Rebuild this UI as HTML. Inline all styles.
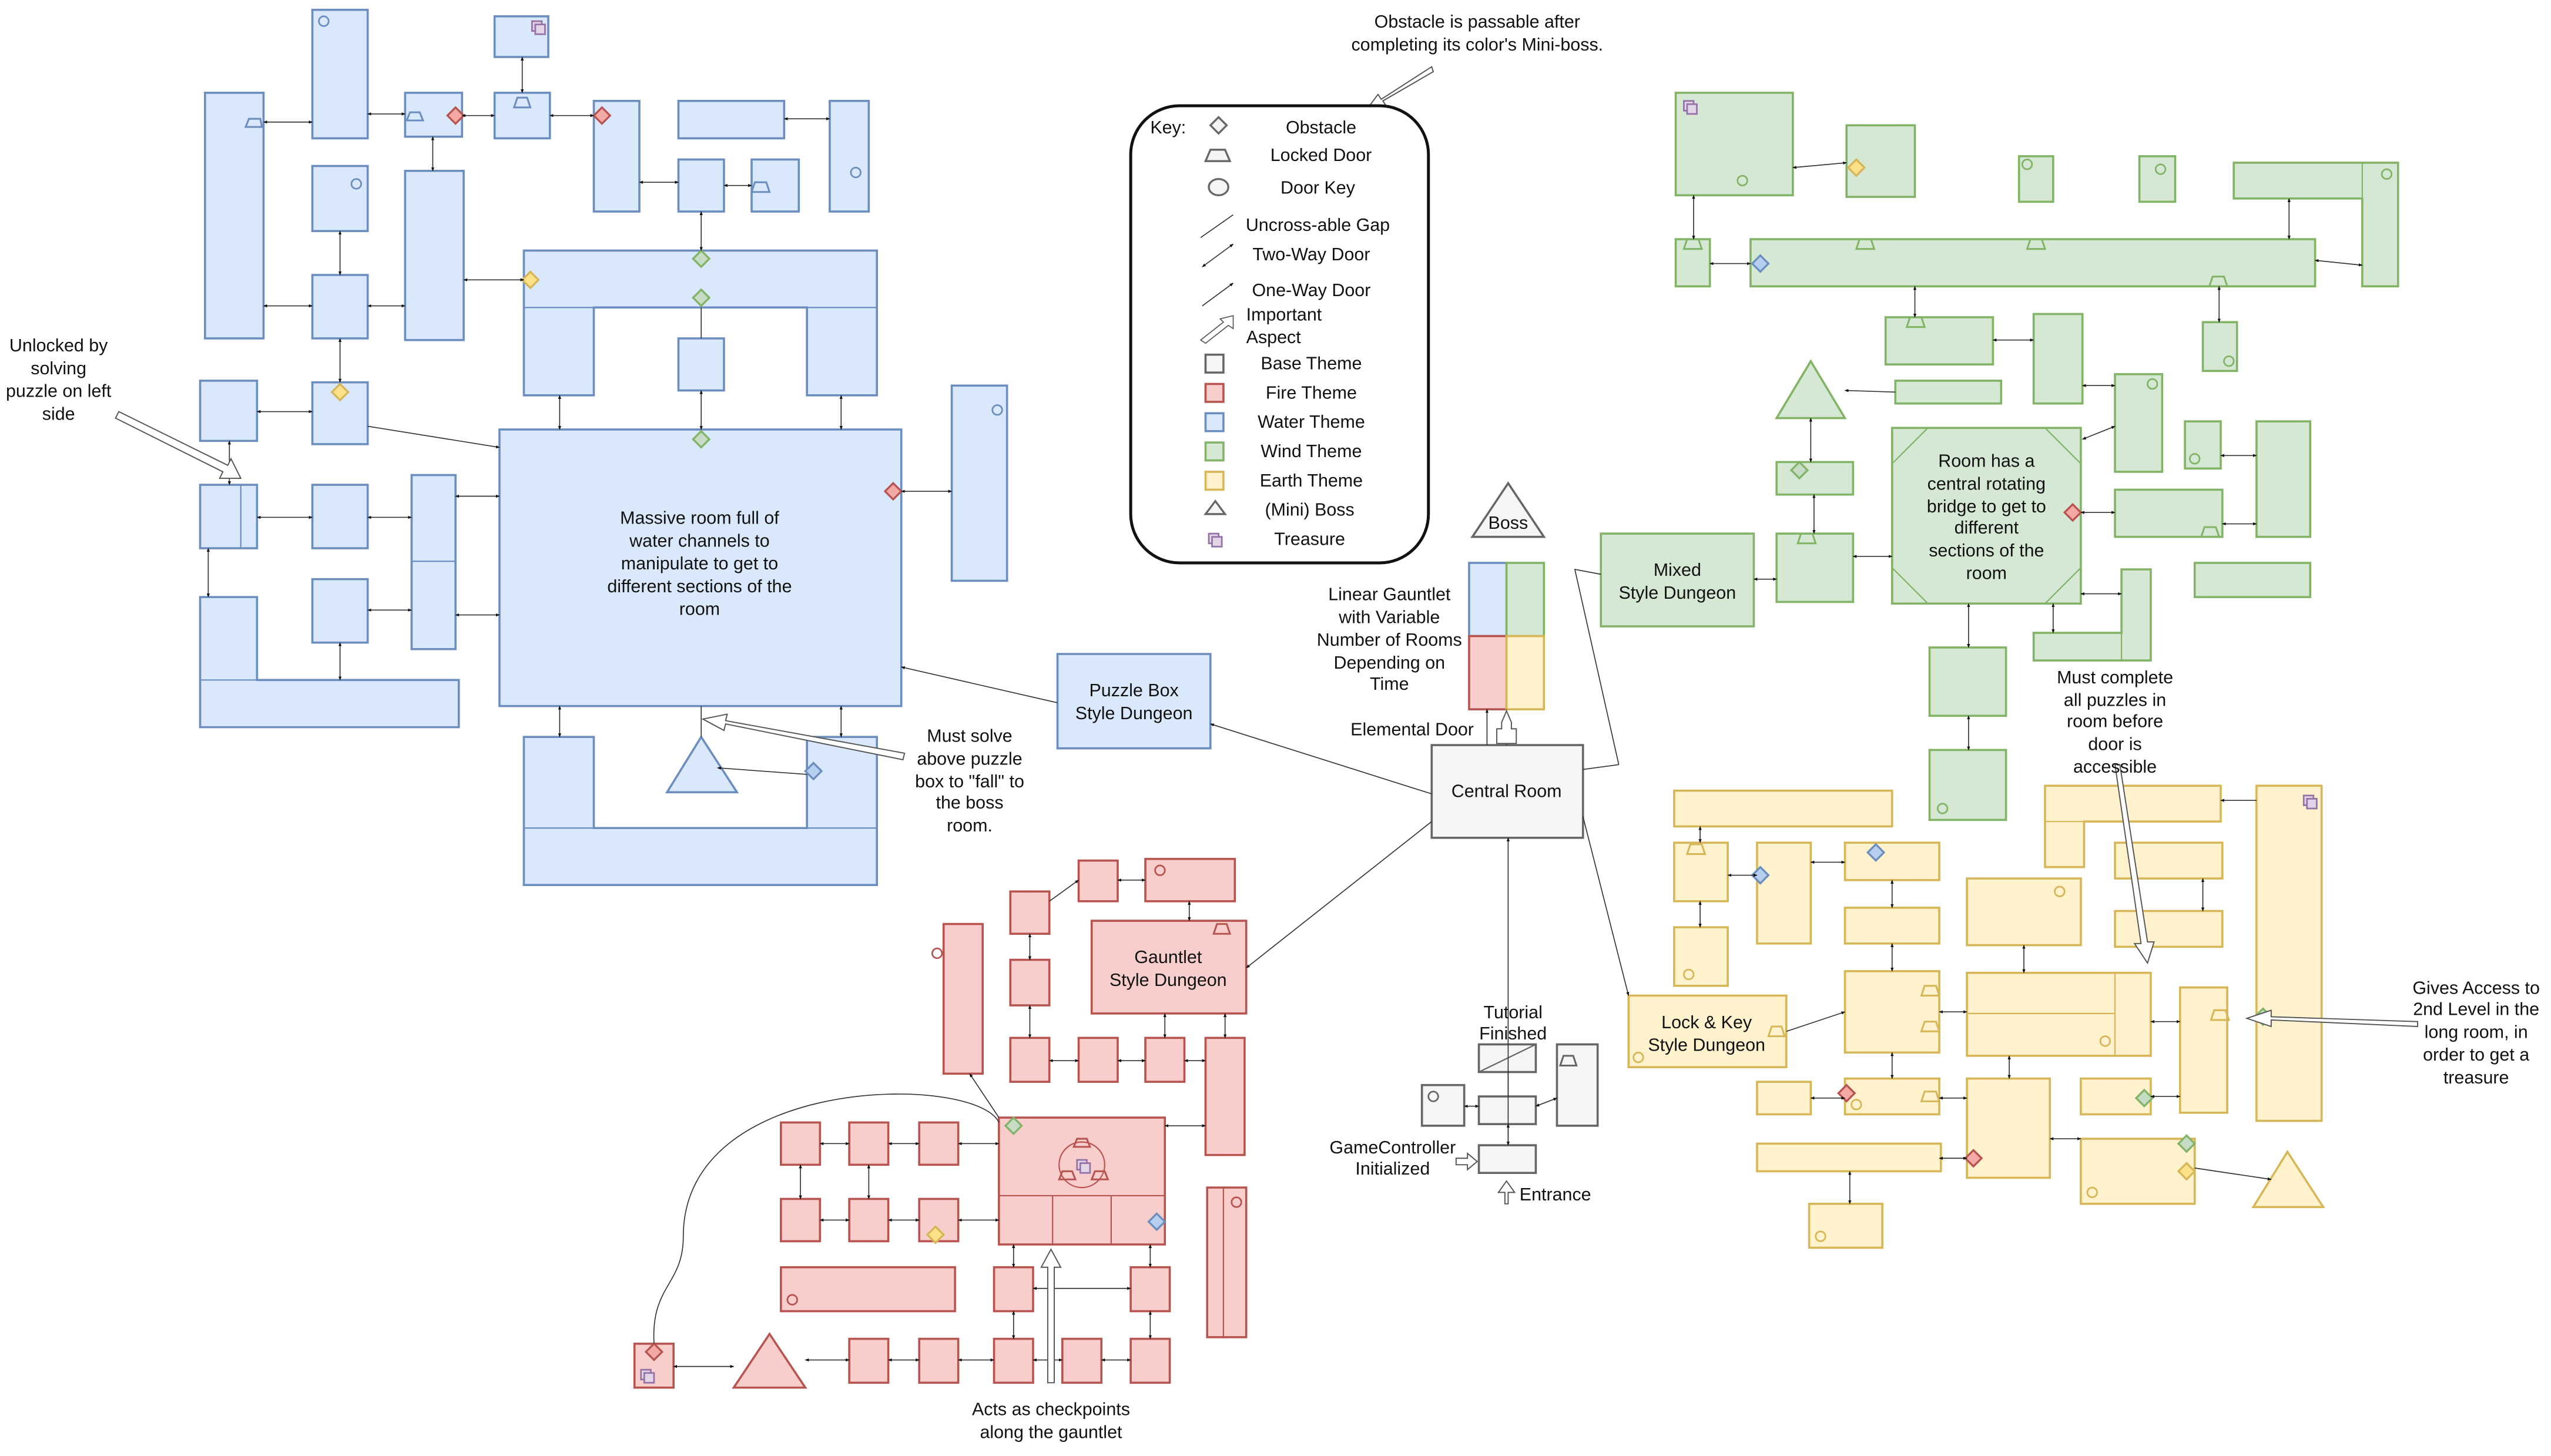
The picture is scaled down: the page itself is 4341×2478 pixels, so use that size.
<!DOCTYPE html>
<html><head><meta charset="utf-8"><style>
html,body{margin:0;padding:0;background:#fff}
svg{display:block}
text{font-family:"Liberation Sans",sans-serif;font-size:11px;fill:#111}
.w{fill:#dae8fc;stroke:#6c8ebf;stroke-width:1.3}
.f{fill:#f8cecc;stroke:#b85450;stroke-width:1.3}
.g{fill:#d5e8d4;stroke:#82b366;stroke-width:1.3}
.e{fill:#fff2cc;stroke:#d6b656;stroke-width:1.3}
.b{fill:#f5f5f5;stroke:#666;stroke-width:1.3}
.l{stroke:#333;stroke-width:0.6;fill:none}
.in{stroke-width:0.8;fill:none}
.t{text-anchor:middle}
</style></head><body>
<svg width="4341" height="2478" viewBox="0 0 1568 895" xmlns="http://www.w3.org/2000/svg">
<defs>
<marker id="a" viewBox="0 0 10 10" refX="9" refY="5" markerWidth="4" markerHeight="4" orient="auto-start-reverse"><path d="M0,1 L10,5 L0,9 z" fill="#111"/></marker>
</defs>
<rect width="1568" height="895" fill="#fff"/>

<!-- ===== WATER ===== -->
<g class="w">
<rect x="126" y="57" width="36" height="151"/>
<rect x="192" y="6" width="34" height="79"/>
<rect x="304" y="10" width="33" height="25"/>
<rect x="249" y="57" width="35" height="27"/>
<rect x="304" y="57" width="34" height="28"/>
<rect x="365" y="62" width="28" height="68"/>
<rect x="417" y="62" width="65" height="23"/>
<rect x="510" y="62" width="24" height="68"/>
<rect x="192" y="102" width="34" height="40"/>
<rect x="249" y="105" width="36" height="104"/>
<rect x="417" y="98" width="28" height="32"/>
<rect x="462" y="98" width="29" height="32"/>
<rect x="192" y="169" width="34" height="39"/>
<path d="M322,154 H539 V243 H496 V189 H365 V243 H322 Z"/>
<rect x="417" y="208" width="28" height="32"/>
<rect x="123" y="234" width="35" height="37"/>
<rect x="192" y="235" width="34" height="38"/>
<rect x="123" y="298" width="35" height="39"/>
<rect x="192" y="298" width="34" height="39"/>
<rect x="253" y="292" width="27" height="107"/>
<rect x="192" y="356" width="34" height="39"/>
<path d="M123,367 H158 V418 H282 V447 H123 Z"/>
<rect x="307" y="264" width="247" height="170"/>
<rect x="585" y="237" width="34" height="120"/>
<path d="M322,453 H365 V509 H496 V453 H539 V544 H322 Z"/>
<path d="M431,453 L453,487 L410,487 Z"/>
<rect x="650" y="402" width="94" height="58"/>
</g>
<g class="in" stroke="#6c8ebf"><line x1="148" y1="298" x2="148" y2="337"/><line x1="253" y1="345" x2="280" y2="345"/>
<line x1="322" y1="189" x2="365" y2="189"/><line x1="496" y1="189" x2="539" y2="189"/>
<line x1="322" y1="509" x2="365" y2="509"/><line x1="496" y1="509" x2="539" y2="509"/>
<line x1="123" y1="418" x2="158" y2="418"/></g>
<text class="t" x="430" y="322">Massive room full of</text>
<text class="t" x="430" y="336">water channels to</text>
<text class="t" x="430" y="350">manipulate to get to</text>
<text class="t" x="430" y="364">different sections of the</text>
<text class="t" x="430" y="378">room</text>
<text class="t" x="697" y="428">Puzzle Box</text>
<text class="t" x="697" y="442">Style Dungeon</text>

<!-- ===== FIRE ===== -->
<g class="f">
<rect x="663" y="529" width="24" height="25"/>
<rect x="704" y="528" width="55" height="26"/>
<rect x="621" y="548" width="24" height="26"/>
<rect x="671" y="566" width="95" height="57"/>
<rect x="580" y="568" width="24" height="92"/>
<rect x="621" y="590" width="24" height="28"/>
<rect x="621" y="638" width="24" height="27"/>
<rect x="663" y="638" width="24" height="27"/>
<rect x="704" y="638" width="24" height="27"/>
<rect x="741" y="638" width="24" height="72"/>
<rect x="614" y="687" width="102" height="78"/>
<rect x="480" y="690" width="24" height="26"/>
<rect x="522" y="690" width="24" height="26"/>
<rect x="565" y="690" width="24" height="26"/>
<rect x="480" y="737" width="24" height="26"/>
<rect x="522" y="737" width="24" height="26"/>
<rect x="565" y="737" width="24" height="26"/>
<rect x="742" y="730" width="24" height="92"/>
<rect x="480" y="779" width="107" height="27"/>
<rect x="611" y="779" width="24" height="27"/>
<rect x="695" y="779" width="24" height="27"/>
<rect x="522" y="823" width="24" height="27"/>
<rect x="565" y="823" width="24" height="27"/>
<rect x="611" y="823" width="24" height="27"/>
<rect x="653" y="823" width="24" height="27"/>
<rect x="695" y="823" width="24" height="27"/>
<rect x="390" y="826" width="24" height="27"/>
<path d="M473,820 L495,853 L451,853 Z"/>
</g>
<g class="in" stroke="#b85450"><line x1="614" y1="735" x2="716" y2="735"/><line x1="647" y1="735" x2="647" y2="765"/><line x1="683" y1="735" x2="683" y2="765"/><line x1="752" y1="730" x2="752" y2="822"/><circle cx="665" cy="716" r="14"/></g>
<text class="t" x="718" y="592">Gauntlet</text>
<text class="t" x="718" y="606">Style Dungeon</text>

<!-- ===== BASE ===== -->
<g class="b">
<path d="M927,297 L949,330 L905,330 Z"/>
<rect x="880" y="458" width="93" height="57"/>
<rect x="909" y="642" width="35" height="17"/>
<rect x="957" y="642" width="25" height="50"/>
<rect x="874" y="667" width="26" height="25"/>
<rect x="909" y="674" width="35" height="17"/>
<rect x="909" y="704" width="35" height="17"/>
</g>
<line x1="909" y1="659" x2="944" y2="642" stroke="#666" stroke-width="0.8"/>
<rect x="903" y="346" width="23" height="45" class="w"/>
<rect x="926" y="346" width="23" height="45" class="g"/>
<rect x="903" y="391" width="23" height="45" class="f"/>
<rect x="926" y="391" width="23" height="45" class="e"/>
<text class="t" x="927" y="325">Boss</text>
<text class="t" x="926" y="490">Central Room</text>

<!-- ===== WIND ===== -->
<g class="g">
<rect x="1030" y="57" width="72" height="63"/>
<rect x="1135" y="77" width="42" height="44"/>
<rect x="1241" y="96" width="21" height="28"/>
<rect x="1315" y="96" width="22" height="28"/>
<path d="M1373,100 H1474 V176 H1452 V122 H1373 Z"/>
<rect x="1030" y="147" width="21" height="29"/>
<rect x="1076" y="147" width="347" height="29"/>
<rect x="1354" y="198" width="21" height="30"/>
<rect x="1159" y="195" width="66" height="29"/>
<rect x="1250" y="193" width="30" height="55"/>
<rect x="1165" y="234" width="65" height="14"/>
<path d="M1113,222 L1134,257 L1092,257 Z"/>
<rect x="1300" y="230" width="29" height="60"/>
<rect x="1343" y="259" width="22" height="29"/>
<rect x="1387" y="259" width="33" height="71"/>
<rect x="1092" y="284" width="47" height="20"/>
<rect x="1163" y="263" width="116" height="108"/>
<rect x="1092" y="328" width="47" height="42"/>
<rect x="1300" y="301" width="66" height="29"/>
<rect x="1349" y="346" width="71" height="21"/>
<path d="M1304,350 H1322 V406 H1250 V389 H1304 Z"/>
<rect x="1186" y="398" width="47" height="42"/>
<rect x="1186" y="461" width="47" height="43"/>
<rect x="984" y="328" width="94" height="57"/>
</g>
<g class="in" stroke="#82b366"><line x1="1163" y1="285" x2="1185" y2="263"/><line x1="1257" y1="263" x2="1279" y2="285"/><line x1="1163" y1="349" x2="1185" y2="371"/><line x1="1257" y1="371" x2="1279" y2="349"/>
<line x1="1452" y1="100" x2="1452" y2="122"/><line x1="1304" y1="389" x2="1304" y2="406"/></g>
<text class="t" x="1221" y="287">Room has a</text>
<text class="t" x="1221" y="301">central rotating</text>
<text class="t" x="1221" y="315">bridge to get to</text>
<text class="t" x="1221" y="328">different</text>
<text class="t" x="1221" y="342">sections of the</text>
<text class="t" x="1221" y="356">room</text>
<text class="t" x="1031" y="354">Mixed</text>
<text class="t" x="1031" y="368">Style Dungeon</text>

<!-- ===== EARTH ===== -->
<g class="e">
<rect x="1029" y="486" width="134" height="22"/>
<rect x="1029" y="518" width="33" height="36"/>
<rect x="1080" y="518" width="33" height="62"/>
<rect x="1134" y="518" width="58" height="23"/>
<rect x="1134" y="558" width="58" height="22"/>
<path d="M1257,483 H1365 V505 H1281 V533 H1257 Z"/>
<rect x="1300" y="518" width="66" height="22"/>
<rect x="1300" y="560" width="66" height="22"/>
<rect x="1387" y="483" width="40" height="206"/>
<rect x="1209" y="540" width="70" height="41"/>
<rect x="1029" y="570" width="33" height="36"/>
<rect x="1001" y="612" width="97" height="44"/>
<rect x="1134" y="597" width="58" height="50"/>
<rect x="1209" y="598" width="113" height="51"/>
<rect x="1340" y="607" width="29" height="77"/>
<rect x="1080" y="665" width="33" height="20"/>
<rect x="1134" y="663" width="58" height="22"/>
<rect x="1279" y="663" width="43" height="22"/>
<rect x="1209" y="663" width="51" height="61"/>
<rect x="1080" y="703" width="113" height="17"/>
<rect x="1279" y="700" width="70" height="40"/>
<path d="M1406,708 L1428,742 L1385,742 Z"/>
<rect x="1112" y="740" width="45" height="27"/>
</g>
<g class="in" stroke="#d6b656"><line x1="1300" y1="598" x2="1300" y2="649"/><line x1="1209" y1="623" x2="1300" y2="623"/><line x1="1257" y1="505" x2="1281" y2="505"/></g>
<text class="t" x="1049" y="632">Lock &amp; Key</text>
<text class="t" x="1049" y="646">Style Dungeon</text>

<!-- ===== ICONS: diamonds ===== -->
<g stroke-width="1.2">
<g fill="#c6dcc4" stroke="#82b366">
<path d="M431,154 l5,5 -5,5 -5,-5z"/><path d="M431,178 l5,5 -5,5 -5,-5z"/><path d="M431,265 l5,5 -5,5 -5,-5z"/>
<path d="M623,687 l5,5 -5,5 -5,-5z"/><path d="M1106,284 l5,5 -5,5 -5,-5z"/><path d="M1318,670 l5,5 -5,5 -5,-5z"/>
<path d="M1344,698 l5,5 -5,5 -5,-5z"/><path d="M1391,620 l5,5 -5,5 -5,-5z"/>
</g>
<g fill="#fde08a" stroke="#d6b656">
<path d="M326,167 l5,5 -5,5 -5,-5z"/><path d="M209,236 l5,5 -5,5 -5,-5z"/><path d="M575,754 l5,5 -5,5 -5,-5z"/>
<path d="M1141,98 l5,5 -5,5 -5,-5z"/><path d="M1344,715 l5,5 -5,5 -5,-5z"/>
</g>
<g fill="#f4a9a6" stroke="#b85450">
<path d="M280,66 l5,5 -5,5 -5,-5z"/><path d="M370,66 l5,5 -5,5 -5,-5z"/><path d="M549,297 l5,5 -5,5 -5,-5z"/>
<path d="M402,826 l5,5 -5,5 -5,-5z"/><path d="M1274,310 l5,5 -5,5 -5,-5z"/><path d="M1135,667 l5,5 -5,5 -5,-5z"/><path d="M1213,707 l5,5 -5,5 -5,-5z"/>
</g>
<g fill="#b6cff0" stroke="#6c8ebf">
<path d="M500,469 l5,5 -5,5 -5,-5z"/><path d="M711,746 l5,5 -5,5 -5,-5z"/><path d="M1082,157 l5,5 -5,5 -5,-5z"/>
<path d="M1082,533 l5,5 -5,5 -5,-5z"/><path d="M1153,519 l5,5 -5,5 -5,-5z"/>
</g>
</g>
<!-- locked doors -->
<g fill="none" stroke-width="1.1">
<g stroke="#6c8ebf"><path d="M151,78 l2,-5 h7 l1,5z"/><path d="M250,74 l2,-5 h6 l2,5z"/><path d="M316,66 l2,-6 h6 l2,6z"/><path d="M462,118 l2,-6 h7 l2,6z"/></g>
<g stroke="#b85450"><path d="M746,574 l2,-6 h6 l2,6z"/><path d="M660,705 l2,-5 h6 l2,5z"/><path d="M651,725 l2,-5 h6 l2,5z"/><path d="M671,725 l2,-5 h6 l2,5z"/></g>
<g stroke="#666"><path d="M959,655 l2,-6 h6 l2,6z"/></g>
<g stroke="#82b366"><path d="M1035,153 l2,-6 h7 l2,6z"/><path d="M1141,153 l2,-6 h7 l2,6z"/><path d="M1246,153 l2,-6 h7 l2,6z"/><path d="M1358,176 l2,-6 h7 l2,6z"/><path d="M1172,201 l2,-6 h7 l2,6z"/><path d="M1105,334 l2,-6 h7 l2,6z"/><path d="M1353,330 l2,-6 h7 l2,6z"/></g>
<g stroke="#d6b656"><path d="M1037,525 l2,-6 h7 l2,6z"/><path d="M1087,637 l2,-6 h6 l2,6z"/><path d="M1181,612 l2,-6 h7 l2,6z"/><path d="M1181,634 l2,-6 h7 l2,6z"/><path d="M1181,677 l2,-6 h7 l2,6z"/><path d="M1359,627 l2,-6 h7 l2,6z"/></g>
</g>
<!-- keys circles -->
<g fill="none" stroke-width="1">
<g stroke="#6c8ebf"><circle cx="199" cy="13" r="3"/><circle cx="219" cy="113" r="3"/><circle cx="526" cy="106" r="3"/><circle cx="613" cy="252" r="3"/></g>
<g stroke="#b85450"><circle cx="713" cy="535" r="3"/><circle cx="576" cy="586" r="3"/><circle cx="760" cy="739" r="3"/><circle cx="487" cy="799" r="3"/></g>
<g stroke="#666"><circle cx="881" cy="674" r="3"/></g>
<g stroke="#82b366"><circle cx="1071" cy="111" r="3"/><circle cx="1246" cy="101" r="3"/><circle cx="1328" cy="104" r="3"/><circle cx="1467" cy="107" r="3"/><circle cx="1370" cy="222" r="3"/><circle cx="1323" cy="236" r="3"/><circle cx="1349" cy="282" r="3"/><circle cx="1194" cy="497" r="3"/></g>
<g stroke="#d6b656"><circle cx="1266" cy="548" r="3"/><circle cx="1038" cy="599" r="3"/><circle cx="1007" cy="650" r="3"/><circle cx="1141" cy="679" r="3"/><circle cx="1294" cy="640" r="3"/><circle cx="1286" cy="733" r="3"/><circle cx="1119" cy="760" r="3"/></g>
</g>
<!-- treasures -->
<g fill="#e1d5e7" stroke="#9673a6" stroke-width="1">
<rect x="327" y="13" width="6" height="6"/><rect x="329" y="15" width="6" height="6"/>
<rect x="1035" y="62" width="6" height="6"/><rect x="1037" y="64" width="6" height="6"/>
<rect x="1416" y="489" width="6" height="6"/><rect x="1418" y="491" width="6" height="6"/>
<rect x="394" y="842" width="6" height="6"/><rect x="396" y="844" width="6" height="6"/>
<rect x="662" y="713" width="6" height="6"/><rect x="664" y="715" width="6" height="6"/>
</g>

<!-- ===== CONNECTORS ===== -->
<g class="l">
<line x1="162" y1="75" x2="192" y2="75" marker-start="url(#a)" marker-end="url(#a)"/>
<line x1="226" y1="70" x2="249" y2="70" marker-start="url(#a)" marker-end="url(#a)"/>
<line x1="284" y1="71" x2="304" y2="71" marker-start="url(#a)" marker-end="url(#a)"/>
<line x1="338" y1="71" x2="365" y2="71" marker-start="url(#a)" marker-end="url(#a)"/>
<line x1="482" y1="73" x2="510" y2="73" marker-start="url(#a)" marker-end="url(#a)"/>
<line x1="321" y1="35" x2="321" y2="57" marker-start="url(#a)" marker-end="url(#a)"/>
<line x1="266" y1="84" x2="266" y2="105" marker-start="url(#a)" marker-end="url(#a)"/>
<line x1="393" y1="112" x2="417" y2="112" marker-start="url(#a)" marker-end="url(#a)"/>
<line x1="445" y1="114" x2="462" y2="114" marker-start="url(#a)" marker-end="url(#a)"/>
<line x1="431" y1="130" x2="431" y2="154" marker-start="url(#a)" marker-end="url(#a)"/>
<line x1="209" y1="142" x2="209" y2="169" marker-start="url(#a)" marker-end="url(#a)"/>
<line x1="162" y1="188" x2="192" y2="188" marker-start="url(#a)" marker-end="url(#a)"/>
<line x1="226" y1="188" x2="249" y2="188" marker-start="url(#a)" marker-end="url(#a)"/>
<line x1="285" y1="172" x2="322" y2="172" marker-start="url(#a)" marker-end="url(#a)"/>
<line x1="209" y1="208" x2="209" y2="235" marker-start="url(#a)" marker-end="url(#a)"/>
<line x1="158" y1="253" x2="192" y2="253" marker-start="url(#a)" marker-end="url(#a)"/>
<line x1="226" y1="262" x2="307" y2="275" marker-end="url(#a)"/>
<line x1="431" y1="189" x2="431" y2="208"/>
<line x1="431" y1="240" x2="431" y2="264" marker-start="url(#a)" marker-end="url(#a)"/>
<line x1="344" y1="243" x2="344" y2="264" marker-start="url(#a)" marker-end="url(#a)"/>
<line x1="517" y1="243" x2="517" y2="264" marker-start="url(#a)" marker-end="url(#a)"/>
<line x1="554" y1="302" x2="585" y2="302" marker-start="url(#a)" marker-end="url(#a)"/>
<line x1="141" y1="271" x2="141" y2="298" marker-start="url(#a)" marker-end="url(#a)"/>
<line x1="158" y1="318" x2="192" y2="318" marker-start="url(#a)" marker-end="url(#a)"/>
<line x1="226" y1="318" x2="253" y2="318" marker-start="url(#a)" marker-end="url(#a)"/>
<line x1="280" y1="305" x2="307" y2="305" marker-start="url(#a)" marker-end="url(#a)"/>
<line x1="280" y1="378" x2="307" y2="378" marker-start="url(#a)" marker-end="url(#a)"/>
<line x1="226" y1="375" x2="253" y2="375" marker-start="url(#a)" marker-end="url(#a)"/>
<line x1="128" y1="337" x2="128" y2="367" marker-start="url(#a)" marker-end="url(#a)"/>
<line x1="209" y1="395" x2="209" y2="418" marker-start="url(#a)" marker-end="url(#a)"/>
<line x1="344" y1="434" x2="344" y2="453" marker-start="url(#a)" marker-end="url(#a)"/>
<line x1="517" y1="434" x2="517" y2="453" marker-start="url(#a)" marker-end="url(#a)"/>
<line x1="496" y1="476" x2="441" y2="472" marker-end="url(#a)"/>
<line x1="431" y1="434" x2="431" y2="453"/>
<line x1="650" y1="432" x2="554" y2="410" marker-end="url(#a)"/>
<line x1="880" y1="488" x2="744" y2="445" marker-end="url(#a)"/>
<line x1="880" y1="505" x2="766" y2="595" marker-end="url(#a)"/>
<line x1="926" y1="458" x2="926" y2="436"/>
<line x1="914" y1="458" x2="914" y2="436" marker-end="url(#a)"/>
<line x1="973" y1="473" x2="995" y2="470"/><path d="M995,470 L968,350 L984,353"/>
<line x1="973" y1="502" x2="1001" y2="612" marker-end="url(#a)"/>
<line x1="927" y1="704" x2="927" y2="515" marker-end="url(#a)"/>
<line x1="927" y1="659" x2="927" y2="674"/>
<line x1="927" y1="691" x2="927" y2="704" marker-start="url(#a)" marker-end="url(#a)"/>
<line x1="900" y1="680" x2="909" y2="680" marker-start="url(#a)" marker-end="url(#a)"/>
<line x1="944" y1="680" x2="957" y2="675" marker-start="url(#a)" marker-end="url(#a)"/>
<!-- fire -->
<line x1="645" y1="554" x2="663" y2="541" marker-end="url(#a)"/>
<line x1="687" y1="541" x2="704" y2="541" marker-start="url(#a)" marker-end="url(#a)"/>
<line x1="731" y1="554" x2="731" y2="566" marker-start="url(#a)" marker-end="url(#a)"/>
<line x1="633" y1="574" x2="633" y2="590" marker-start="url(#a)" marker-end="url(#a)"/>
<line x1="633" y1="618" x2="633" y2="638" marker-start="url(#a)" marker-end="url(#a)"/>
<line x1="645" y1="652" x2="663" y2="652" marker-start="url(#a)" marker-end="url(#a)"/>
<line x1="687" y1="652" x2="704" y2="652" marker-start="url(#a)" marker-end="url(#a)"/>
<line x1="728" y1="652" x2="741" y2="652" marker-start="url(#a)" marker-end="url(#a)"/>
<line x1="716" y1="623" x2="716" y2="638" marker-start="url(#a)" marker-end="url(#a)"/>
<line x1="753" y1="623" x2="753" y2="638" marker-start="url(#a)" marker-end="url(#a)"/>
<line x1="614" y1="687" x2="596" y2="660" marker-end="url(#a)"/>
<line x1="716" y1="692" x2="741" y2="692" marker-start="url(#a)" marker-end="url(#a)"/>
<line x1="504" y1="703" x2="522" y2="703" marker-start="url(#a)" marker-end="url(#a)"/>
<line x1="546" y1="703" x2="565" y2="703" marker-start="url(#a)" marker-end="url(#a)"/>
<line x1="589" y1="703" x2="614" y2="703" marker-start="url(#a)" marker-end="url(#a)"/>
<line x1="504" y1="750" x2="522" y2="750" marker-start="url(#a)" marker-end="url(#a)"/>
<line x1="546" y1="750" x2="565" y2="750" marker-start="url(#a)" marker-end="url(#a)"/>
<line x1="589" y1="750" x2="614" y2="750" marker-start="url(#a)" marker-end="url(#a)"/>
<line x1="492" y1="716" x2="492" y2="737" marker-start="url(#a)" marker-end="url(#a)"/>
<line x1="534" y1="716" x2="534" y2="737" marker-start="url(#a)" marker-end="url(#a)"/>
<line x1="623" y1="765" x2="623" y2="779" marker-start="url(#a)" marker-end="url(#a)"/>
<line x1="707" y1="765" x2="707" y2="779" marker-start="url(#a)" marker-end="url(#a)"/>
<line x1="635" y1="792" x2="695" y2="792" marker-start="url(#a)" marker-end="url(#a)"/>
<line x1="623" y1="806" x2="623" y2="823" marker-start="url(#a)" marker-end="url(#a)"/>
<line x1="707" y1="806" x2="707" y2="823" marker-start="url(#a)" marker-end="url(#a)"/>
<line x1="495" y1="836" x2="522" y2="836" marker-start="url(#a)" marker-end="url(#a)"/>
<line x1="546" y1="836" x2="565" y2="836" marker-start="url(#a)" marker-end="url(#a)"/>
<line x1="589" y1="836" x2="611" y2="836" marker-start="url(#a)" marker-end="url(#a)"/>
<line x1="635" y1="836" x2="653" y2="836" marker-start="url(#a)" marker-end="url(#a)"/>
<line x1="677" y1="836" x2="695" y2="836" marker-start="url(#a)" marker-end="url(#a)"/>
<line x1="414" y1="840" x2="451" y2="840" marker-start="url(#a)" marker-end="url(#a)"/>
<path d="M402,826 C400,790 420,790 420,760 C420,660 600,660 614,690"/>
<!-- wind -->
<line x1="1041" y1="120" x2="1041" y2="147" marker-start="url(#a)" marker-end="url(#a)"/>
<line x1="1051" y1="162" x2="1076" y2="162" marker-start="url(#a)" marker-end="url(#a)"/>
<line x1="1102" y1="103" x2="1135" y2="100" marker-start="url(#a)" marker-end="url(#a)"/>
<line x1="1423" y1="160" x2="1452" y2="163" marker-start="url(#a)" marker-end="url(#a)"/>
<line x1="1407" y1="122" x2="1407" y2="147" marker-start="url(#a)" marker-end="url(#a)"/>
<line x1="1177" y1="176" x2="1177" y2="195" marker-start="url(#a)" marker-end="url(#a)"/>
<line x1="1364" y1="176" x2="1364" y2="198" marker-start="url(#a)" marker-end="url(#a)"/>
<line x1="1225" y1="209" x2="1250" y2="209" marker-start="url(#a)" marker-end="url(#a)"/>
<line x1="1165" y1="241" x2="1134" y2="240" marker-end="url(#a)"/>
<line x1="1280" y1="237" x2="1300" y2="237" marker-start="url(#a)" marker-end="url(#a)"/>
<line x1="1113" y1="257" x2="1113" y2="284" marker-start="url(#a)" marker-end="url(#a)"/>
<line x1="1115" y1="304" x2="1115" y2="328" marker-start="url(#a)" marker-end="url(#a)"/>
<line x1="1139" y1="342" x2="1163" y2="342" marker-start="url(#a)" marker-end="url(#a)"/>
<line x1="1279" y1="315" x2="1300" y2="315" marker-start="url(#a)" marker-end="url(#a)"/>
<line x1="1280" y1="270" x2="1300" y2="262" marker-start="url(#a)" marker-end="url(#a)"/>
<line x1="1365" y1="280" x2="1387" y2="280" marker-start="url(#a)" marker-end="url(#a)"/>
<line x1="1279" y1="365" x2="1304" y2="365" marker-start="url(#a)" marker-end="url(#a)"/>
<line x1="1366" y1="322" x2="1387" y2="322" marker-start="url(#a)" marker-end="url(#a)"/>
<line x1="1210" y1="371" x2="1210" y2="398" marker-start="url(#a)" marker-end="url(#a)"/>
<line x1="1210" y1="440" x2="1210" y2="461" marker-start="url(#a)" marker-end="url(#a)"/>
<line x1="1262" y1="371" x2="1262" y2="389" marker-start="url(#a)" marker-end="url(#a)"/>
<line x1="1078" y1="356" x2="1092" y2="356" marker-start="url(#a)" marker-end="url(#a)"/>
<!-- earth -->
<line x1="1045" y1="508" x2="1045" y2="518" marker-start="url(#a)" marker-end="url(#a)"/>
<line x1="1062" y1="538" x2="1080" y2="538" marker-start="url(#a)" marker-end="url(#a)"/>
<line x1="1113" y1="530" x2="1134" y2="530" marker-start="url(#a)" marker-end="url(#a)"/>
<line x1="1163" y1="541" x2="1163" y2="558" marker-start="url(#a)" marker-end="url(#a)"/>
<line x1="1163" y1="580" x2="1163" y2="597" marker-start="url(#a)" marker-end="url(#a)"/>
<line x1="1045" y1="554" x2="1045" y2="570" marker-start="url(#a)" marker-end="url(#a)"/>
<line x1="1098" y1="634" x2="1134" y2="622" marker-end="url(#a)"/>
<line x1="1192" y1="622" x2="1209" y2="622" marker-start="url(#a)" marker-end="url(#a)"/>
<line x1="1244" y1="581" x2="1244" y2="598" marker-start="url(#a)" marker-end="url(#a)"/>
<line x1="1354" y1="540" x2="1354" y2="560" marker-start="url(#a)" marker-end="url(#a)"/>
<line x1="1322" y1="628" x2="1340" y2="628" marker-start="url(#a)" marker-end="url(#a)"/>
<line x1="1387" y1="492" x2="1365" y2="492" marker-end="url(#a)"/>
<line x1="1163" y1="647" x2="1163" y2="663" marker-start="url(#a)" marker-end="url(#a)"/>
<line x1="1113" y1="675" x2="1134" y2="675" marker-start="url(#a)" marker-end="url(#a)"/>
<line x1="1192" y1="675" x2="1209" y2="675" marker-start="url(#a)" marker-end="url(#a)"/>
<line x1="1235" y1="649" x2="1235" y2="663" marker-start="url(#a)" marker-end="url(#a)"/>
<line x1="1322" y1="674" x2="1340" y2="674" marker-start="url(#a)" marker-end="url(#a)"/>
<line x1="1192" y1="712" x2="1209" y2="712" marker-start="url(#a)" marker-end="url(#a)"/>
<line x1="1137" y1="720" x2="1137" y2="740" marker-start="url(#a)" marker-end="url(#a)"/>
<line x1="1349" y1="718" x2="1396" y2="725" marker-end="url(#a)"/>
<line x1="1260" y1="700" x2="1279" y2="700" marker-start="url(#a)" marker-end="url(#a)"/>
</g>

<!-- hollow "important" arrows -->
<g fill="#fff" stroke="#555" stroke-width="0.7">
<path d="M73,253 L140,286 L142,282 L148,294 L135,294 L137,290 L71,257 Z"/>
<path d="M556,463 L446,443 L447,439 L432,442 L445,449 L446,445 L555,467 Z"/>
<path d="M644,850 V779 H640 L646,768 L652,779 H648 V850 Z"/>
<path d="M920,457 V448 H923 V444 L926,437 L929,444 V448 H932 V457 Z"/>
<path d="M895,712 H902 V709 L908,714 L902,719 V716 H895 Z"/>
<path d="M925,740 V733 H921 L926,726 L931,733 H927 V740 Z"/>
<path d="M1486,631 L1396,627 L1396,631 L1381,626 L1396,621 L1396,625 L1486,628 Z"/>
<path d="M1300,470 L1316,580 L1312,580 L1320,592 L1324,579 L1320,579 L1303,470 Z"/>
<path d="M881,44 L850,62 L852,65 L838,70 L847,58 L849,61 L880,41 Z"/>
</g>

<!-- ===== KEY ===== -->
<rect x="695" y="65" width="183" height="281" rx="30" fill="#fff" stroke="#111" stroke-width="1.8"/>
<text x="707" y="82">Key:</text>
<path d="M749,72 l5,5 -5,5 -5,-5z" fill="#f5f5f5" stroke="#666" stroke-width="1.2"/>
<text class="t" x="812" y="82">Obstacle</text>
<path d="M741,99 l3,-7 h9 l3,7z" fill="#f5f5f5" stroke="#666" stroke-width="1.2"/>
<text class="t" x="812" y="99">Locked Door</text>
<ellipse cx="749" cy="115" rx="6" ry="5" fill="#f5f5f5" stroke="#666" stroke-width="1.2"/>
<text class="t" x="810" y="119">Door Key</text>
<line x1="738" y1="146" x2="758" y2="132" stroke="#111" stroke-width="0.5"/>
<text class="t" x="810" y="142">Uncross-able Gap</text>
<line x1="739" y1="164" x2="758" y2="150" class="l" marker-start="url(#a)" marker-end="url(#a)"/>
<text class="t" x="806" y="160">Two-Way Door</text>
<line x1="739" y1="188" x2="758" y2="174" class="l" marker-end="url(#a)"/>
<text class="t" x="806" y="182">One-Way Door</text>
<path d="M738,209 L752,198 L750,196 L758,194 L758,202 L755,200 L741,211 Z" fill="#fff" stroke="#555" stroke-width="0.6"/>
<text x="766" y="197">Important</text>
<text x="766" y="211">Aspect</text>
<rect x="741" y="218" width="11" height="11" class="b"/><text class="t" x="806" y="227">Base Theme</text>
<rect x="741" y="236" width="11" height="11" class="f"/><text class="t" x="806" y="245">Fire Theme</text>
<rect x="741" y="254" width="11" height="11" class="w"/><text class="t" x="806" y="263">Water Theme</text>
<rect x="741" y="272" width="11" height="11" class="g"/><text class="t" x="806" y="281">Wind Theme</text>
<rect x="741" y="290" width="11" height="11" class="e"/><text class="t" x="806" y="299">Earth Theme</text>
<path d="M747,308 l6,8 h-12z" fill="#f5f5f5" stroke="#666" stroke-width="1.2"/><text class="t" x="805" y="317">(Mini) Boss</text>
<rect x="743" y="328" width="6" height="6" fill="#e1d5e7" stroke="#9673a6"/><rect x="745" y="330" width="6" height="6" fill="#e1d5e7" stroke="#9673a6"/><text class="t" x="805" y="335">Treasure</text>

<!-- ===== ANNOTATIONS ===== -->
<text class="t" x="908" y="17">Obstacle is passable after</text>
<text class="t" x="908" y="31">completing its color's Mini-boss.</text>
<text class="t" x="36" y="216">Unlocked by</text>
<text class="t" x="36" y="230">solving</text>
<text class="t" x="36" y="244">puzzle on left</text>
<text class="t" x="36" y="258">side</text>
<text class="t" x="596" y="456">Must solve</text>
<text class="t" x="596" y="470">above puzzle</text>
<text class="t" x="596" y="484">box to "fall" to</text>
<text class="t" x="596" y="497">the boss</text>
<text class="t" x="596" y="511">room.</text>
<text class="t" x="854" y="369">Linear Gauntlet</text>
<text class="t" x="854" y="383">with Variable</text>
<text class="t" x="854" y="397">Number of Rooms</text>
<text class="t" x="854" y="411">Depending on</text>
<text class="t" x="854" y="424">Time</text>
<text class="t" x="868" y="452">Elemental Door</text>
<text class="t" x="930" y="626">Tutorial</text>
<text class="t" x="930" y="639">Finished</text>
<text class="t" x="856" y="709">GameController</text>
<text class="t" x="856" y="722">Initialized</text>
<text x="934" y="738">Entrance</text>
<text class="t" x="646" y="870">Acts as checkpoints</text>
<text class="t" x="646" y="884">along the gauntlet</text>
<text class="t" x="1300" y="420">Must complete</text>
<text class="t" x="1300" y="434">all puzzles in</text>
<text class="t" x="1300" y="447">room before</text>
<text class="t" x="1300" y="461">door is</text>
<text class="t" x="1300" y="475">accessible</text>
<text class="t" x="1522" y="611">Gives Access to</text>
<text class="t" x="1522" y="624">2nd Level in the</text>
<text class="t" x="1522" y="638">long room, in</text>
<text class="t" x="1522" y="652">order to get a</text>
<text class="t" x="1522" y="666">treasure</text>
</svg>
</body></html>
